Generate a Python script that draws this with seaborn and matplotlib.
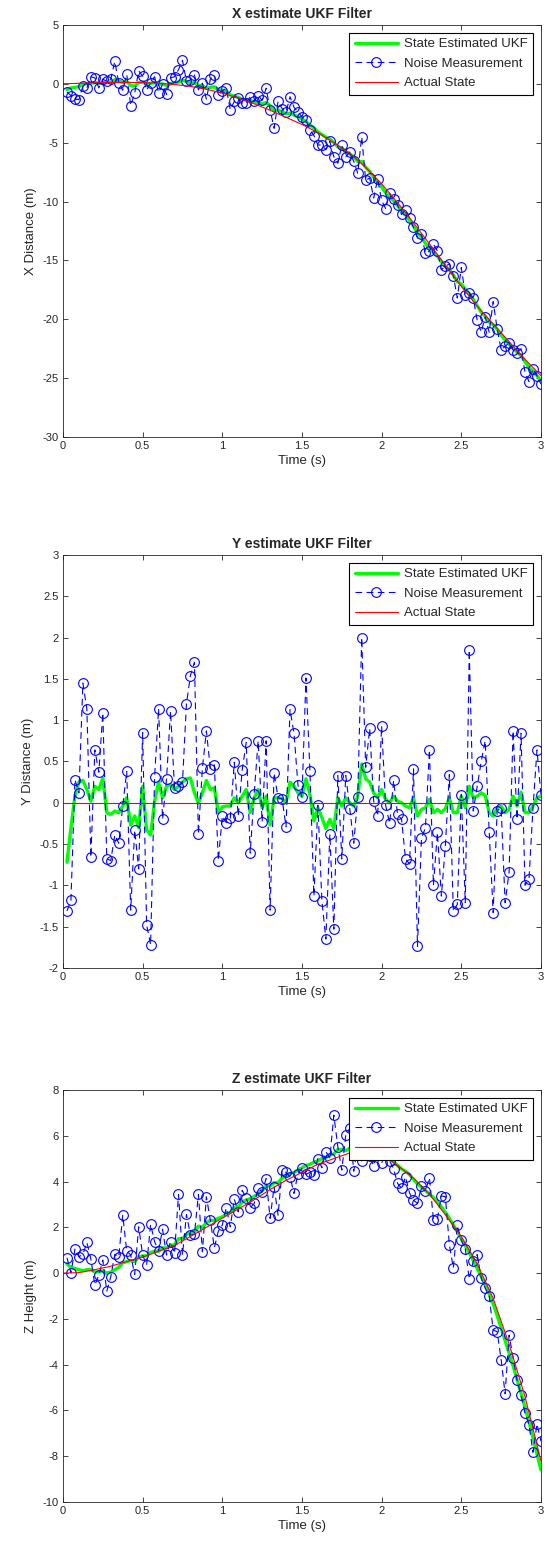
import numpy as np
import pandas as pd
import matplotlib
matplotlib.use('Agg')
import matplotlib.pyplot as plt
import seaborn as sns

# sample times (measurement / estimate every 0.025 s, true state every 0.1 s)
t_meas = np.round(np.arange(1, 121) * 0.025, 3)
t_true = np.round(np.arange(0, 31) * 0.1, 1)

# ---- X ----
x_meas = [-0.70, -1.00, -1.30, -1.35, -0.20, -0.35, 0.60, 0.50, -0.35, 0.40,
          0.20, 0.40, 1.90, 0.10, -0.55, 0.80, -1.85, -0.80, 1.10, 0.65,
          -0.55, 0.10, 0.60, -0.75, -0.05, -0.90, 0.50, 0.60, 1.20, 2.00,
          0.20, 0.33, 0.75, -0.52, 0.05, -1.30, 0.40, 0.75, -0.95, -0.60,
          -0.38, -2.20, -1.50, -1.20, -1.65, -1.65, -1.10, -1.50, -1.00, -1.40,
          -0.38, -2.20, -3.78, -1.50, -2.10, -2.40, -1.10, -2.00, -2.40, -2.80,
          -3.07, -3.92, -4.40, -5.20, -5.20, -5.60, -4.90, -6.20, -6.75, -5.20,
          -6.20, -5.80, -6.60, -7.60, -4.50, -8.20, -8.00, -9.70, -8.10, -9.90,
          -10.6, -9.3, -9.8, -10.3, -11.1, -10.7, -11.4, -12.2, -13.1, -12.8,
          -14.4, -14.2, -13.6, -14.2, -15.8, -15.5, -15.3, -16.3, -18.2, -15.6,
          -17.9, -17.8, -18.2, -20.1, -21.1, -19.8, -21.1, -18.5, -20.8, -22.6,
          -22.3, -22.0, -22.6, -22.9, -22.5, -24.5, -25.3, -24.2, -24.8, -25.5]
x_est = [-0.50, -0.35, -0.30, -0.25, -0.05, 0.00, 0.05, 0.10, 0.05, 0.10,
         0.10, 0.15, 0.35, 0.25, 0.10, 0.20, -0.15, -0.20, 0.10, 0.15,
         0.00, 0.05, 0.10, -0.05, 0.00, -0.15, 0.00, 0.05, 0.15, 0.30,
         0.20, 0.10, 0.10, -0.15, -0.15, -0.40, -0.30, -0.25, -0.50, -0.55,
         -0.60, -0.95, -1.05, -1.15, -1.30, -1.40, -1.40, -1.55, -1.60, -1.70,
         -1.60, -1.85, -2.30, -2.25, -2.35, -2.55, -2.50, -2.65, -2.80, -3.00,
         -3.20, -3.50, -3.75, -4.10, -4.30, -4.55, -4.70, -5.00, -5.35, -5.45,
         -5.75, -5.95, -6.20, -6.60, -6.60, -7.10, -7.45, -7.95, -8.30, -8.75,
         -9.25, -9.55, -9.95, -10.35, -10.80, -11.15, -11.60, -12.10, -12.65, -13.05,
         -13.55, -14.00, -14.30, -14.65, -15.10, -15.50, -15.80, -16.25, -16.80, -17.00,
         -17.45, -17.85, -18.30, -18.85, -19.40, -19.75, -20.25, -20.45, -20.85, -21.35,
         -21.75, -22.10, -22.45, -22.80, -23.10, -23.60, -24.10, -24.40, -24.80, -25.20]
x_true = [0.00, 0.04, 0.08, 0.11, 0.12, 0.10, 0.04, -0.06, -0.22, -0.46,
          -0.80, -1.20, -1.70, -2.25, -2.85, -3.45, -4.15, -5.00, -5.90, -7.10,
          -8.50, -10.10, -11.80, -13.60, -15.40, -17.20, -18.90, -20.40, -21.90, -23.40,
          -24.80]

# ---- Y ----
y_meas = [-1.31, -1.18, 0.28, 0.12, 1.45, 1.13, -0.66, 0.64, 0.37, 1.09,
          -0.68, -0.70, -0.39, -0.49, -0.04, 0.38, -1.30, -0.33, -0.80, 0.85,
          -1.48, -1.72, 0.31, 1.14, -0.20, 0.29, 1.11, 0.18, 0.20, 0.25,
          1.20, 1.54, 1.70, -0.38, 0.42, 0.87, 0.41, 0.46, -0.70, -0.16,
          -0.24, -0.19, 0.49, -0.16, 0.40, 0.73, -0.61, 0.11, 0.75, -0.23,
          0.75, -1.30, 0.36, 0.06, 0.05, -0.29, 1.13, 0.84, 0.21, 0.07,
          1.51, 0.38, -1.13, -0.03, -1.19, -1.65, -0.38, -1.53, 0.33, -0.68,
          0.33, -0.07, -0.49, 0.07, 2.00, 0.43, 0.90, 0.02, -0.16, 0.93,
          -0.03, -0.25, 0.27, -0.14, -0.20, -0.68, -0.74, 0.41, -1.74, -0.43,
          -0.30, 0.64, -1.00, -0.36, -1.13, -0.52, 0.34, -1.31, -1.23, 0.10,
          -1.21, 1.85, -0.10, 0.20, 0.50, 0.75, -0.35, -1.33, -0.10, -0.06,
          -1.21, -0.84, 0.87, -0.20, 0.84, -1.00, -0.92, -0.06, 0.64, 0.10]
y_est = [-0.72, -0.30, 0.08, 0.25, 0.27, 0.16, 0.02, 0.20, 0.16, 0.30,
         -0.12, -0.14, -0.10, -0.12, -0.04, 0.06, -0.27, -0.16, -0.30, 0.20,
         -0.33, -0.39, 0.02, 0.25, 0.06, 0.20, 0.22, 0.16, 0.20, 0.25,
         0.29, 0.30, 0.12, 0.00, 0.12, 0.27, 0.16, 0.18, -0.12, -0.05,
         -0.04, -0.04, 0.06, 0.00, 0.08, 0.16, -0.12, 0.06, 0.16, -0.06,
         0.08, -0.27, 0.06, 0.06, 0.05, 0.00, 0.25, 0.20, 0.12, 0.08,
         0.29, 0.10, -0.22, -0.06, -0.18, -0.31, -0.20, -0.31, 0.06, -0.04,
         0.06, 0.00, -0.04, 0.08, 0.47, 0.29, 0.25, 0.12, 0.06, 0.16,
         0.04, 0.00, 0.08, 0.02, 0.00, -0.04, -0.06, 0.06, -0.16, -0.08,
         -0.06, 0.04, -0.12, -0.08, -0.12, -0.07, 0.06, -0.12, -0.12, 0.08,
         -0.06, 0.20, 0.06, 0.08, 0.12, 0.09, -0.12, -0.16, -0.06, -0.04,
         -0.12, -0.08, 0.08, -0.04, 0.13, -0.12, -0.12, -0.04, 0.06, 0.08]
y_true = np.zeros(31)

# ---- Z ----
z_meas = [0.67, 0.01, 1.05, 0.71, 0.82, 1.34, 0.61, -0.52, -0.09, 0.57,
          -0.79, -0.16, 0.82, 0.71, 2.53, 0.96, 0.79, -0.06, 2.02, 0.79,
          0.35, 2.13, 1.37, 0.98, 1.92, 0.79, 1.37, 0.86, 3.44, 0.79,
          2.56, 1.66, 1.69, 3.44, 0.93, 3.33, 2.31, 1.11, 1.83, 2.10,
          2.85, 2.02, 3.23, 2.68, 3.62, 3.26, 2.85, 3.04, 3.70, 3.55,
          4.13, 2.39, 3.77, 2.53, 4.50, 4.40, 4.21, 3.48, 4.35, 4.57,
          4.31, 4.40, 4.28, 5.00, 4.60, 5.30, 5.04, 6.90, 5.52, 4.50,
          6.03, 6.32, 4.45, 5.60, 4.90, 5.90, 5.10, 4.69, 5.50, 4.80,
          5.30, 4.90, 4.55, 3.92, 3.70, 4.20, 3.50, 3.19, 3.04, 3.80,
          3.59, 4.17, 2.34, 2.37, 3.37, 3.34, 1.24, 0.22, 2.08, 1.43,
          1.05, -0.26, 0.51, 0.81, -0.22, -0.66, -1.00, -2.49, -2.56, -3.78,
          -5.27, -2.71, -3.69, -4.69, -5.34, -6.12, -6.62, -7.83, -6.59, -7.35]
z_est = [0.40, 0.25, 0.20, 0.15, 0.10, 0.15, 0.15, 0.05, 0.05, 0.10,
         0.00, 0.05, 0.15, 0.25, 0.45, 0.50, 0.55, 0.50, 0.70, 0.75,
         0.75, 0.90, 0.95, 0.95, 1.10, 1.10, 1.20, 1.25, 1.50, 1.50,
         1.70, 1.75, 1.80, 2.05, 2.00, 2.20, 2.30, 2.30, 2.40, 2.45,
         2.60, 2.65, 2.85, 2.90, 3.10, 3.20, 3.25, 3.35, 3.45, 3.60,
         3.80, 3.80, 3.95, 3.95, 4.15, 4.25, 4.35, 4.40, 4.50, 4.60,
         4.70, 4.75, 4.85, 4.90, 5.00, 5.05, 5.15, 5.20, 5.40, 5.40,
         5.35, 5.45, 5.50, 5.50, 5.45, 5.50, 5.45, 5.40, 5.35, 5.25,
         5.15, 5.00, 4.85, 4.70, 4.55, 4.45, 4.30, 4.10, 3.90, 3.75,
         3.60, 3.45, 3.30, 3.10, 2.90, 2.65, 2.40, 2.10, 1.80, 1.50,
         1.20, 0.90, 0.55, 0.20, -0.15, -0.50, -0.90, -1.35, -1.85, -2.40,
         -2.95, -3.50, -4.05, -4.65, -5.25, -5.85, -6.50, -7.20, -7.90, -8.60]
z_true = [0.00, 0.02, 0.15, 0.30, 0.50, 0.70, 0.95, 1.20, 1.60, 2.00,
          2.40, 2.80, 3.20, 3.65, 4.05, 4.40, 4.75, 5.00, 5.25, 5.35,
          5.20, 4.70, 4.15, 3.45, 2.55, 1.60, 0.40, -1.10, -3.10, -5.40,
          -8.20]

x_ticks = [0, 0.5, 1, 1.5, 2, 2.5, 3]
x_tick_labels = ['0', '0.5', '1', '1.5', '2', '2.5', '3']

panels = [
    dict(title='X estimate UKF Filter', ylabel='X Distance (m)',
         meas=x_meas, est=x_est, true=x_true, ylim=(-30, 5),
         yticks=[5, 0, -5, -10, -15, -20, -25, -30],
         ylabels=['5', '0', '-5', '-10', '-15', '-20', '-25', '-30'],
         rect=[0.1141, 0.7177, 0.8659, 0.2662]),
    dict(title='Y estimate UKF Filter', ylabel='Y Distance (m)',
         meas=y_meas, est=y_est, true=y_true, ylim=(-2, 3),
         yticks=[3, 2.5, 2, 1.5, 1, 0.5, 0, -0.5, -1, -1.5, -2],
         ylabels=['3', '2.5', '2', '1.5', '1', '0.5', '0', '-0.5', '-1', '-1.5', '-2'],
         rect=[0.1141, 0.3747, 0.8659, 0.2668]),
    dict(title='Z estimate UKF Filter', ylabel='Z Height (m)',
         meas=z_meas, est=z_est, true=z_true, ylim=(-10, 8),
         yticks=[8, 6, 4, 2, 0, -2, -4, -6, -8, -10],
         ylabels=['8', '6', '4', '2', '0', '-2', '-4', '-6', '-8', '-10'],
         rect=[0.1141, 0.0297, 0.8659, 0.2662]),
]

sns.set_style('ticks')
plt.rcParams['font.family'] = ['Liberation Sans', 'DejaVu Sans']
axis_col = '#262626'

fig = plt.figure(figsize=(5.52, 15.48), dpi=100)

for p in panels:
    ax = fig.add_axes(p['rect'])
    sns.lineplot(x=t_meas, y=p['est'], ax=ax, color='#00ff00', linewidth=2.4,
                 label='State Estimated UKF', estimator=None, sort=False)
    sns.lineplot(x=t_meas, y=p['meas'], ax=ax, color='#0000ff', linewidth=0.8,
                 linestyle=(0, (6, 4)), marker='o', markersize=7,
                 markerfacecolor='none', markeredgecolor='#0000ff',
                 markeredgewidth=0.8, label='Noise Measurement',
                 estimator=None, sort=False)
    sns.lineplot(x=t_true, y=p['true'], ax=ax, color='#ff0000', linewidth=0.8,
                 label='Actual State', estimator=None, sort=False)

    ax.set_xlim(0, 3)
    ax.set_ylim(*p['ylim'])
    ax.set_xticks(x_ticks)
    ax.set_xticklabels(x_tick_labels)
    ax.set_yticks(p['yticks'])
    ax.set_yticklabels(p['ylabels'])
    ax.tick_params(direction='in', top=True, right=True, length=3.5,
                   width=0.6, labelsize=8, colors=axis_col, pad=3)
    for s in ax.spines.values():
        s.set_visible(True)
        s.set_color(axis_col)
        s.set_linewidth(0.6)

    ax.set_title(p['title'], fontsize=10, fontweight='bold', pad=5)
    ax.set_xlabel('Time (s)', fontsize=9.5, labelpad=3)
    ax.set_ylabel(p['ylabel'], fontsize=9.5, labelpad=4)

    leg = ax.legend(loc='upper right', fontsize=9.5, frameon=True,
                    fancybox=False, edgecolor='black', framealpha=1,
                    handlelength=3.3, borderaxespad=0.6, borderpad=0.4,
                    labelspacing=0.55, handletextpad=0.45)
    leg.get_frame().set_linewidth(0.8)

fig.savefig('out.png', dpi=100, facecolor='white')
